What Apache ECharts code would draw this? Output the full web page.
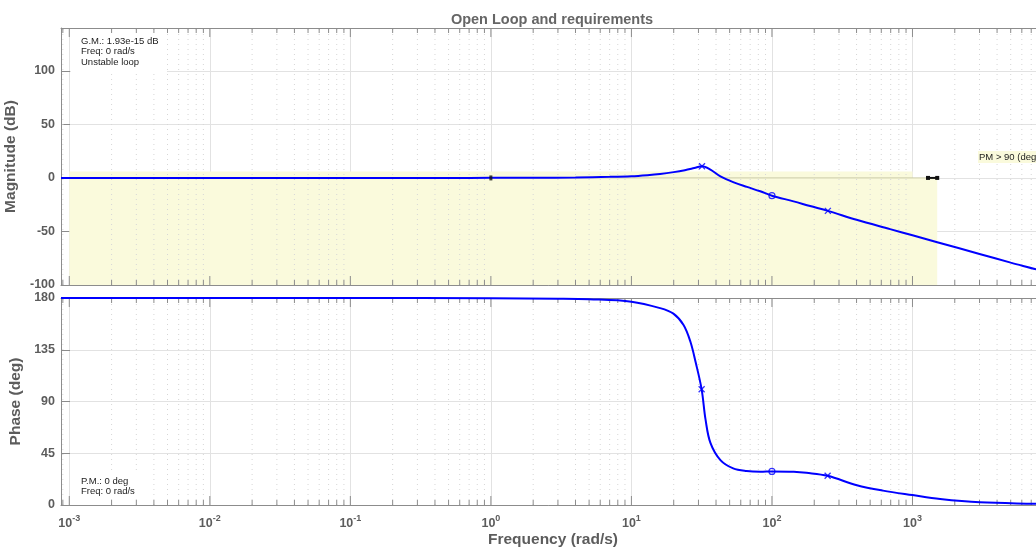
<!DOCTYPE html>
<html>
<head>
<meta charset="utf-8">
<script src="https://cdn.jsdelivr.net/npm/echarts@6/dist/echarts.min.js"></script>
<style>
  html, body { margin: 0; padding: 0; background: #ffffff; }
  #chart { width: 1036px; height: 548px; }
</style>
</head>
<body>
<div id="chart"></div>
<script>
// Open-loop Bode response (frequency in rad/s)
const magFreq = [0.000873, 0.01, 0.1, 0.5, 1, 2, 4, 7, 10, 13, 16, 20, 24, 28, 31.8, 36.5, 43, 53.5, 66.4, 82.6, 100, 142.6, 187, 250, 400, 693, 1000, 1500, 3000, 5000, 7730, 10000];
const magDb   = [0, 0, 0, 0, 0.05, 0.15, 0.45, 1.0, 1.6, 2.6, 3.7, 5.4, 7.2, 9.2, 10.9, 7.8, 1.5, -4.1, -8.4, -12.5, -16.6, -21.9, -26.3, -30.8, -39.1, -47.8, -53.6, -60.0, -71.0, -79.1, -85.7, -90.0];

const phaseFreq = [0.000873, 0.1, 1, 3, 5, 10, 16, 19.9, 23.5, 26.3, 28.6, 31.6, 33.7, 36.5, 43, 53, 66, 83, 100, 143, 176, 249, 402, 617, 1000, 1574, 3020, 7260, 10000];
const phaseDeg  = [180, 180, 179.8, 179.4, 178.9, 176.8, 171.2, 166.4, 156.5, 142, 124.5, 100.6, 74.2, 54, 39, 31.8, 29.5, 28.9, 29.2, 28.9, 28.0, 25.4, 17.2, 12.5, 8.6, 5.2, 2.3, 1.1, 0.8];

// characteristic points on the response
const crossMarksMag = [[31.8, 10.9], [250, -30.8]];
const circleMarksMag = [[100, -16.6]];
const crossMarksPhase = [[31.6, 100.6], [249, 25.4]];
const circleMarksPhase = [[100, 29.2]];

// design requirement bounds on the magnitude plot
const boundA = [[0.001, -100], [1000, 6]];
const boundB = [[1, -100], [1500, 0]];
const reqEdge = [[1, 0], [1290, 0]];
const reqHandle = [[1290, 0], [1500, 0]];
const reqStart = [[1, 0]];

// axis ranges and ticks
const X_MIN = 0.000873, X_MAX = 10000;
const magTicks = { min: -100, max: 140, step: 50 };
const phaseTicks = { min: 0, max: 180, step: 45 };
const decades = [0.001, 0.01, 0.1, 1, 10, 100, 1000];

const minorVals = [];
for (let e = -4; e <= 3; e++) {
  for (let m = 2; m <= 9; m++) {
    const v = m * Math.pow(10, e);
    if (v > X_MIN && v < X_MAX) minorVals.push(v);
  }
}
const tickData = decades.map(v => [v, 1]).concat(minorVals.map(v => [v, 0]));

const FONT = '"Liberation Sans", Arial, Helvetica, sans-serif';
const TXT = '#5c5c5c';
const AXC = '#8c8c8c';
const BLUE = '#0000ff';

const pairs = (xs, ys) => xs.map((x, i) => [x, ys[i]]);

function minorGridRender(lo, hi) {
  return function (params, api) {
    const v = api.value(0);
    const b = api.coord([v, lo]);
    const t = api.coord([v, hi]);
    return {
      type: 'line',
      shape: { x1: b[0], y1: b[1], x2: t[0], y2: t[1] },
      style: { stroke: '#d6d6d6', lineWidth: 1, lineDash: [1, 4] }
    };
  };
}
function tickRender(lo, hi) {
  return function (params, api) {
    const v = api.value(0);
    const len = api.value(1) ? 9 : 5;
    const b = api.coord([v, lo]);
    const t = api.coord([v, hi]);
    return {
      type: 'group',
      children: [
        { type: 'line', shape: { x1: b[0], y1: b[1], x2: b[0], y2: b[1] - len }, style: { stroke: AXC, lineWidth: 1 } },
        { type: 'line', shape: { x1: t[0], y1: t[1], x2: t[0], y2: t[1] + len }, style: { stroke: AXC, lineWidth: 1 } }
      ]
    };
  };
}

const xLabelFmt = function (v) {
  const l = Math.log10(v);
  const e = Math.round(l);
  if (Math.abs(l - e) > 1e-6) return '';
  return '{b|10}{s|' + e + '}';
};

const crossPath = 'path://M0,0L10,10M10,0L0,10';

function baseX(gridIndex, pos) {
  return {
    type: 'log', logBase: 10, gridIndex: gridIndex, position: pos,
    min: X_MIN, max: X_MAX,
    axisLine: { show: true, onZero: false, lineStyle: { color: AXC, width: 1 } },
    axisTick: { show: false },
    axisLabel: { show: false },
    splitLine: { show: false },
    minorTick: { show: false }
  };
}

const nameStyle = { fontFamily: FONT, fontSize: 15.5, fontWeight: 'bold', color: TXT };

const chart = echarts.init(document.getElementById('chart'), null, { renderer: 'canvas' });

const option = {
  animation: false,
  backgroundColor: '#ffffff',
  textStyle: { fontFamily: FONT },
  title: {
    text: 'Open Loop and requirements',
    left: 547, top: 7, textAlign: 'center',
    textStyle: { fontFamily: FONT, fontSize: 14.5, fontWeight: 'bold', color: '#666666' }
  },
  grid: [
    { left: 61, top: 28, width: 992, height: 257, containLabel: false, outerBoundsMode: 'none' },
    { left: 61, top: 298, width: 992, height: 207, containLabel: false, outerBoundsMode: 'none' }
  ],
  xAxis: [
    Object.assign(baseX(0, 'bottom'), {
      splitLine: { show: true, lineStyle: { color: '#e2e2e2', width: 1 } }
    }),
    baseX(0, 'top'),
    Object.assign(baseX(1, 'bottom'), {
      splitLine: { show: true, lineStyle: { color: '#e2e2e2', width: 1 } },
      axisLabel: {
        show: true, margin: 9, formatter: xLabelFmt, showMinLabel: true,
        rich: {
          b: { fontFamily: FONT, fontSize: 12.5, fontWeight: 'bold', color: TXT, verticalAlign: 'bottom' },
          s: { fontFamily: FONT, fontSize: 9, fontWeight: 'bold', color: TXT, verticalAlign: 'bottom', padding: [0, 0, 7, 0] }
        }
      },
      name: 'Frequency (rad/s)', nameLocation: 'middle', nameGap: 27,
      nameTextStyle: Object.assign({}, nameStyle, { padding: [0, 8, 0, 0] })
    }),
    baseX(1, 'top')
  ],
  yAxis: [
    {
      type: 'value', gridIndex: 0, min: magTicks.min, max: magTicks.max, interval: magTicks.step,
      axisLine: { show: true, onZero: false, lineStyle: { color: AXC, width: 1 } },
      axisTick: { show: true, inside: true, length: 9, lineStyle: { color: AXC } },
      axisLabel: { show: true, margin: 6, showMaxLabel: false, fontFamily: FONT, fontSize: 12.5, fontWeight: 'bold', color: TXT },
      splitLine: { show: true, lineStyle: { color: '#e2e2e2', width: 1 } },
      name: 'Magnitude (dB)', nameLocation: 'middle', nameRotate: 90, nameGap: 34,
      nameTextStyle: nameStyle
    },
    {
      type: 'value', gridIndex: 1, min: phaseTicks.min, max: phaseTicks.max, interval: phaseTicks.step,
      axisLine: { show: true, onZero: false, lineStyle: { color: AXC, width: 1 } },
      axisTick: { show: true, inside: true, length: 9, lineStyle: { color: AXC } },
      axisLabel: { show: true, margin: 6, fontFamily: FONT, fontSize: 12.5, fontWeight: 'bold', color: TXT },
      splitLine: { show: true, lineStyle: { color: '#e2e2e2', width: 1 } },
      name: 'Phase (deg)', nameLocation: 'middle', nameRotate: 90, nameGap: 25,
      nameTextStyle: nameStyle
    }
  ],
  series: [
    // minor (dotted) grid
    { type: 'custom', name: 'minorGridMag', xAxisIndex: 0, yAxisIndex: 0, z: 1, silent: true, clip: false,
      data: minorVals.map(v => [v, 0]), encode: { x: 0 }, renderItem: minorGridRender(magTicks.min, magTicks.max) },
    { type: 'custom', name: 'minorGridPhase', xAxisIndex: 2, yAxisIndex: 1, z: 1, silent: true, clip: false,
      data: minorVals.map(v => [v, 0]), encode: { x: 0 }, renderItem: minorGridRender(phaseTicks.min, phaseTicks.max) },

    // requirement regions
    { type: 'line', name: 'bounds', xAxisIndex: 0, yAxisIndex: 0, z: 2, data: [], silent: true,
      markArea: {
        silent: true,
        itemStyle: { color: '#fafadc', borderWidth: 0 },
        data: [
          [{ coord: boundA[0] }, { coord: boundA[1] }],
          [{ coord: boundB[0] }, { coord: boundB[1] }]
        ]
      }
    },
    { type: 'line', name: 'reqEdge', xAxisIndex: 0, yAxisIndex: 0, z: 3, data: reqEdge,
      showSymbol: false, lineStyle: { color: '#c9c9a6', width: 1 }, silent: true },
    { type: 'line', name: 'reqHandle', xAxisIndex: 0, yAxisIndex: 0, z: 3, data: reqHandle,
      symbol: 'rect', symbolSize: [4, 4], showSymbol: true,
      itemStyle: { color: '#111111' }, lineStyle: { color: '#111111', width: 2 }, silent: true },
    { type: 'scatter', name: 'reqStart', xAxisIndex: 0, yAxisIndex: 0, z: 6, data: reqStart,
      symbol: 'rect', symbolSize: [3, 5], itemStyle: { color: '#111111' }, silent: true },

    // ticks on top and bottom edges
    { type: 'custom', name: 'ticksMag', xAxisIndex: 0, yAxisIndex: 0, z: 4, silent: true, clip: false,
      data: tickData, encode: { x: 0 }, renderItem: tickRender(magTicks.min, magTicks.max) },
    { type: 'custom', name: 'ticksPhase', xAxisIndex: 2, yAxisIndex: 1, z: 4, silent: true, clip: false,
      data: tickData, encode: { x: 0 }, renderItem: tickRender(phaseTicks.min, phaseTicks.max) },

    // responses
    { type: 'line', name: 'Magnitude', xAxisIndex: 0, yAxisIndex: 0, z: 5,
      data: pairs(magFreq, magDb), showSymbol: false, smooth: 0.35,
      lineStyle: { color: BLUE, width: 2 }, silent: true },
    { type: 'line', name: 'Phase', xAxisIndex: 2, yAxisIndex: 1, z: 5,
      data: pairs(phaseFreq, phaseDeg), showSymbol: false, smooth: 0.35,
      lineStyle: { color: BLUE, width: 2 }, silent: true },

    // markers
    { type: 'scatter', xAxisIndex: 0, yAxisIndex: 0, z: 6, data: crossMarksMag, symbol: crossPath, symbolSize: 6,
      itemStyle: { color: 'none', borderColor: BLUE, borderWidth: 1.3 }, silent: true },
    { type: 'scatter', xAxisIndex: 0, yAxisIndex: 0, z: 6, data: circleMarksMag, symbol: 'circle', symbolSize: 6,
      itemStyle: { color: 'none', borderColor: BLUE, borderWidth: 1.2 }, silent: true },
    { type: 'scatter', xAxisIndex: 2, yAxisIndex: 1, z: 6, data: crossMarksPhase, symbol: crossPath, symbolSize: 6,
      itemStyle: { color: 'none', borderColor: BLUE, borderWidth: 1.3 }, silent: true },
    { type: 'scatter', xAxisIndex: 2, yAxisIndex: 1, z: 6, data: circleMarksPhase, symbol: 'circle', symbolSize: 6,
      itemStyle: { color: 'none', borderColor: BLUE, borderWidth: 1.2 }, silent: true }
  ],
  graphic: [
    { type: 'rect', z: 3, silent: true, shape: { x: 71, y: 34, width: 96, height: 39 }, style: { fill: '#ffffff' } },
    { type: 'text', z: 10, silent: true, left: 81, top: 36,
      style: { text: 'G.M.: 1.93e-15 dB\nFreq: 0 rad/s\nUnstable loop', font: '9.5px ' + FONT, fill: '#222222', lineHeight: 10.5 } },
    { type: 'rect', z: 3, silent: true, shape: { x: 71, y: 474, width: 66, height: 24 }, style: { fill: '#ffffff' } },
    { type: 'text', z: 10, silent: true, left: 81, top: 476,
      style: { text: 'P.M.: 0 deg\nFreq: 0 rad/s', font: '9.5px ' + FONT, fill: '#222222', lineHeight: 10.5 } },
    { type: 'text', z: 10, silent: true, left: 978, top: 151,
      style: { text: 'PM > 90 (deg)', font: '9.5px ' + FONT, fill: '#222222', backgroundColor: '#fafadc', padding: [1, 1, 1, 1] } }
  ]
};

chart.setOption(option);
</script>
</body>
</html>
